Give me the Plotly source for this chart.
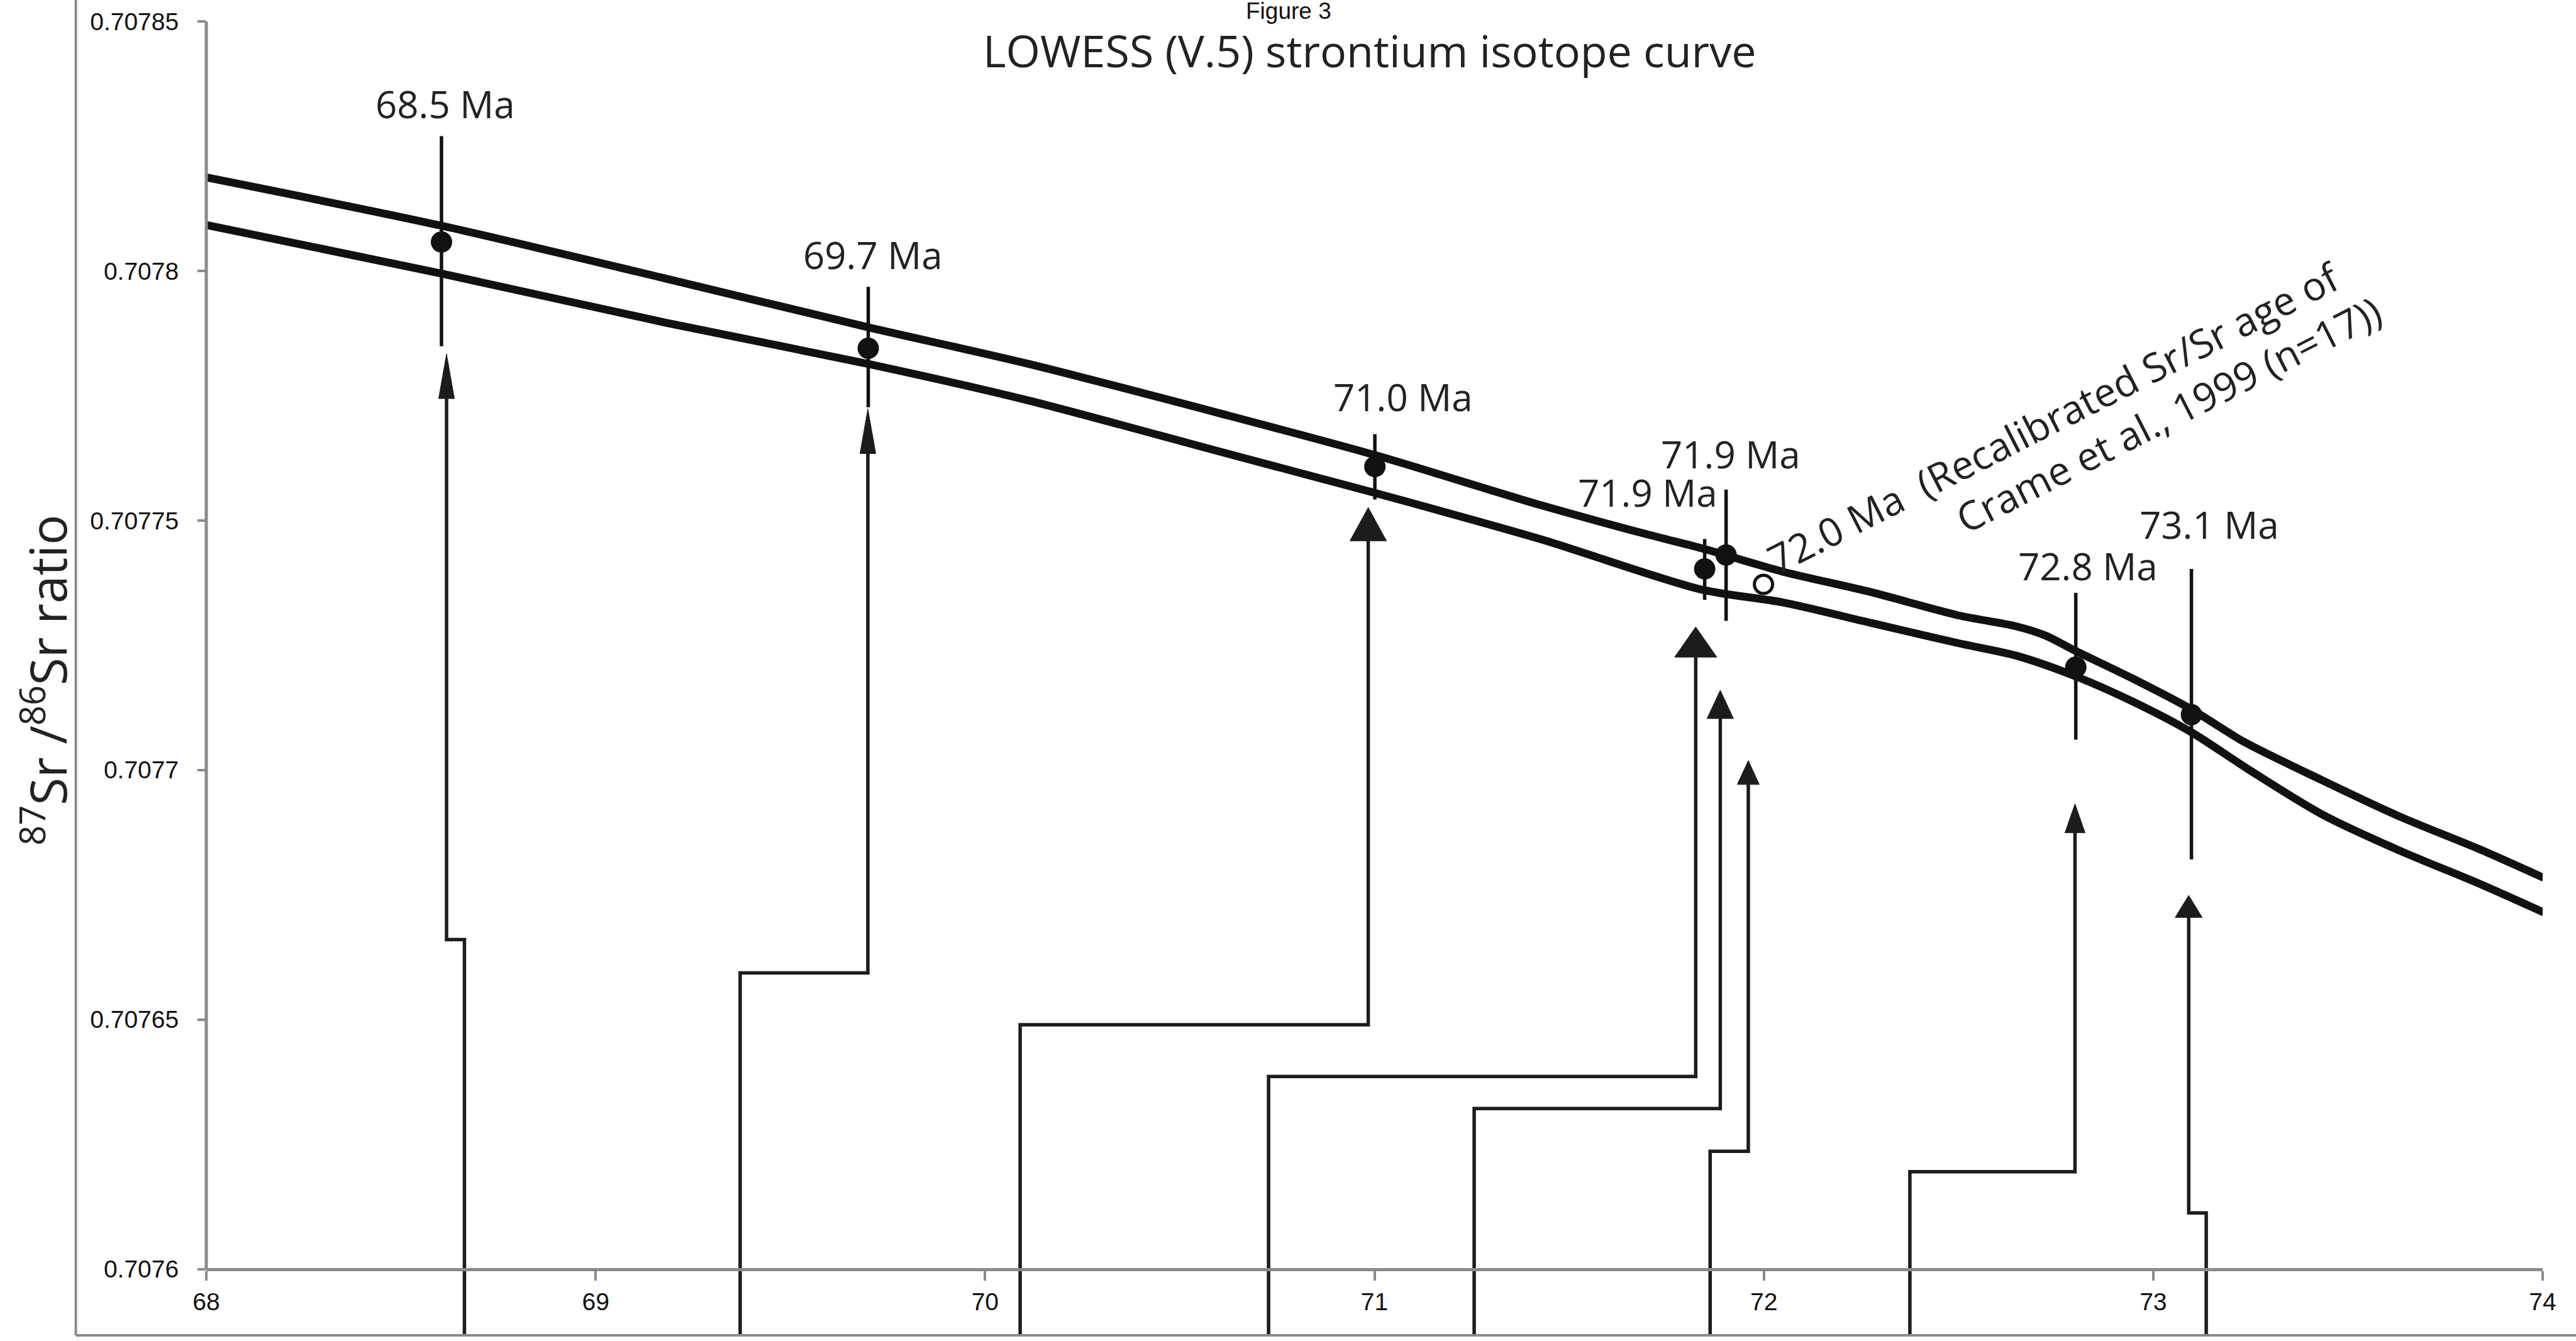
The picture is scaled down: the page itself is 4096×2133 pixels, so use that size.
import plotly.graph_objects as go

# ---------------- data (age in Ma, 87Sr/86Sr) ----------------
upper_age = [68.000, 68.604, 69.180, 69.700, 70.112, 70.604, 71.001, 71.426, 71.698, 71.856,
             72.048, 72.274, 72.499, 72.648, 72.724, 72.799, 72.949, 73.098, 73.231, 73.433,
             73.634, 73.835, 74.003]
upper_sr = [0.70781873, 0.70780906, 0.70779847, 0.70778871, 0.70778137, 0.70777145, 0.70776311,
            0.70775310, 0.70774727, 0.70774410, 0.70773976, 0.70773567, 0.70773100, 0.70772880,
            0.70772692, 0.70772392, 0.70771825, 0.70771216, 0.70770574, 0.70769798, 0.70769064,
            0.70768422, 0.70767839]

lower_age = [68.000, 68.604, 69.180, 69.700, 70.112, 70.604, 71.001, 71.426, 71.839, 72.048,
             72.274, 72.499, 72.648, 72.799, 72.949, 73.098, 73.249, 73.433, 73.634, 73.835, 74.003]
lower_sr = [0.70780922, 0.70779947, 0.70778963, 0.70778137, 0.70777403, 0.70776377, 0.70775552,
            0.70774627, 0.70773617, 0.70773359, 0.70772950, 0.70772542, 0.70772292, 0.70771883,
            0.70771366, 0.70770757, 0.70769990, 0.70769114, 0.70768381, 0.70767730, 0.70767146]

point_age = [68.604, 69.700, 71.001, 71.848, 71.903, 72.801, 73.098]
point_sr = [0.7078058, 0.7077845, 0.7077608, 0.7077403, 0.7077431, 0.7077206, 0.7077111]
err_hi = [0.7078270, 0.7077968, 0.7077673, 0.7077463, 0.7077562, 0.7077355, 0.7077403]
err_lo = [0.7077849, 0.7077727, 0.7077542, 0.7077341, 0.7077299, 0.7077061, 0.7076821]
point_labels = ["68.5 Ma", "69.7 Ma", "71.0 Ma", "71.9 Ma", "71.9 Ma", "72.8 Ma", "73.1 Ma"]
label_age = [68.614, 69.712, 71.074, 71.702, 71.915, 72.833, 73.144]
label_sr = [0.70783349, 0.70780330, 0.70777478, 0.70775560, 0.70776328, 0.70774093, 0.70774918]

open_age = [71.999]
open_sr = [0.7077372]
open_label_lines = ["72.0 Ma\u00a0\u00a0(Recalibrated Sr/Sr age of",
                    "Crame et al., 1999 (n=17))"]
open_label_age = [72.744, 73.039]
open_label_sr = [0.70777068, 0.70777133]

arrow_top_age = [68.617, 69.699, 70.984, 71.825, 71.888, 71.960, 72.799, 73.091]
arrow_tip_sr = [0.70778337, 0.70777236, 0.70775260, 0.70772867, 0.70771599, 0.70770190,
                0.70769323, 0.70767488]
arrow_step_sr = [0.70766604, 0.70765937, 0.70764895, 0.70763861, 0.70763219, 0.70762360,
                 0.70761951, 0.70761126]
arrow_base_age = [68.663, 69.371, 70.090, 70.728, 71.256, 71.862, 72.375, 73.136]

x_ticks = [68, 69, 70, 71, 72, 73, 74]
x_tick_text = ["68", "69", "70", "71", "72", "73", "74"]
y_ticks = [0.7076, 0.70765, 0.7077, 0.70775, 0.7078, 0.70785]
y_tick_text = ["0.7076", "0.70765", "0.7077", "0.70775", "0.7078", "0.70785"]

title_text = "LOWESS (V.5) strontium isotope curve"
fig_label = "Figure 3"
y_title = "<sup>87</sup>Sr /<sup>86</sup>Sr ratio"

# ---------------- layout / style ----------------
W, H = 4096, 2133
ML, MR, MT, MB = 328.4, 53.2, 33.8, 9.3
X_RANGE = [68, 74]
Y_TOP = 0.70785
Y_AXIS = 0.7076
Y_BOTTOM = 0.70758674  # plot area continues below the x axis down to the frame

head_w_px = [25, 25, 58, 67, 42, 35, 32, 43]
head_len_px = [71, 71, 53, 48, 45, 38, 46, 35]

plot_w = W - ML - MR
plot_h = H - MT - MB
px_per_age = plot_w / (X_RANGE[1] - X_RANGE[0])
px_per_sr = plot_h / (Y_TOP - Y_BOTTOM)

BLACK = "#111111"
GREY = "#8a8a8a"
LABEL_FONT = "Open Sans, Lato, sans-serif"
TICK_FONT = "Liberation Sans, Arial, sans-serif"


def paper_x(px):
    return (px - ML) / plot_w


def paper_y(py):
    return (H - MB - py) / plot_h


fig = go.Figure()

# LOWESS envelope
for ages, srs in ((upper_age, upper_sr), (lower_age, lower_sr)):
    fig.add_trace(go.Scatter(x=ages, y=srs, mode="lines",
                             line=dict(color=BLACK, width=12.5, shape="spline", smoothing=0.8),
                             hoverinfo="skip", showlegend=False))

# arrow shafts
sx, sy = [], []
for xt, tip, step, xb, hl in zip(arrow_top_age, arrow_tip_sr, arrow_step_sr, arrow_base_age, head_len_px):
    sx += [xb, xb, xt, xt, None]
    sy += [Y_BOTTOM, step, step, tip - 0.7 * hl / px_per_sr, None]
fig.add_trace(go.Scatter(x=sx, y=sy, mode="lines", line=dict(color="#1c1c1c", width=5.5),
                         hoverinfo="skip", showlegend=False))

# arrow heads
hx, hy = [], []
for xt, tip, hw, hl in zip(arrow_top_age, arrow_tip_sr, head_w_px, head_len_px):
    dx = hw / 2 / px_per_age
    base = tip - hl / px_per_sr
    hx += [xt - dx, xt + dx, xt, xt - dx, None]
    hy += [base, base, tip, base, None]
fig.add_trace(go.Scatter(x=hx, y=hy, mode="lines", fill="toself", fillcolor="#1c1c1c",
                         line=dict(color="#1c1c1c", width=1), hoverinfo="skip", showlegend=False))

# samples with error bars
fig.add_trace(go.Scatter(
    x=point_age, y=point_sr, mode="markers",
    marker=dict(color=BLACK, size=34),
    error_y=dict(type="data", symmetric=False,
                 array=[h - y for h, y in zip(err_hi, point_sr)],
                 arrayminus=[y - l for l, y in zip(err_lo, point_sr)],
                 width=0, thickness=5.5, color=BLACK),
    hoverinfo="skip", showlegend=False))

# recalibrated Crame et al. (open circle)
fig.add_trace(go.Scatter(x=open_age, y=open_sr, mode="markers",
                         marker=dict(color="white", size=29, line=dict(color=BLACK, width=5)),
                         hoverinfo="skip", showlegend=False))

annotations = []
for txt, xa, ya in zip(point_labels, label_age, label_sr):
    annotations.append(dict(x=xa, y=ya, xref="x", yref="y", text=txt, showarrow=False,
                            xanchor="center", yanchor="middle",
                            font=dict(family=LABEL_FONT, size=60, color="#222222")))
for txt, xa, ya in zip(open_label_lines, open_label_age, open_label_sr):
    annotations.append(dict(x=xa, y=ya, xref="x", yref="y", text=txt,
                            showarrow=False, xanchor="center", yanchor="middle",
                            textangle=-27, font=dict(family=LABEL_FONT, size=63, color="#222222")))
annotations.append(dict(x=paper_x(2178), y=paper_y(80), xref="paper", yref="paper", text=title_text,
                        showarrow=False, xanchor="center", yanchor="middle",
                        font=dict(family=LABEL_FONT, size=70, color="#222222")))
annotations.append(dict(x=paper_x(2049), y=paper_y(17), xref="paper", yref="paper", text=fig_label,
                        showarrow=False, xanchor="center", yanchor="middle",
                        font=dict(family=TICK_FONT, size=37, color="#111111")))
annotations.append(dict(x=paper_x(71), y=paper_y(1082), xref="paper", yref="paper", text=y_title,
                        showarrow=False, xanchor="center", yanchor="middle", textangle=-90,
                        font=dict(family=LABEL_FONT, size=80, color="#222222")))

shapes = [
    # y axis line (only over the value range)
    dict(type="line", xref="paper", yref="y", x0=0, x1=0, y0=Y_AXIS, y1=Y_TOP,
         line=dict(color=GREY, width=5)),
    # outer frame, left and bottom
    dict(type="line", xref="paper", yref="paper", x0=paper_x(121), x1=paper_x(121), y0=0, y1=1.05,
         line=dict(color=GREY, width=4)),
    dict(type="line", xref="paper", yref="paper", x0=paper_x(121), x1=1.05, y0=0, y1=0,
         line=dict(color=GREY, width=4)),
]

fig.update_layout(
    width=W, height=H, autosize=False,
    margin=dict(l=ML, r=MR, t=MT, b=MB, pad=0),
    paper_bgcolor="white", plot_bgcolor="white",
    showlegend=False,
    annotations=annotations,
    shapes=shapes,
    xaxis=dict(range=X_RANGE, anchor="free",
               position=(Y_AXIS - Y_BOTTOM) / (Y_TOP - Y_BOTTOM),
               showline=True, linecolor=GREY, linewidth=5,
               ticks="outside", ticklen=15, tickwidth=4, tickcolor=GREY,
               tickvals=x_ticks, ticktext=x_tick_text,
               tickfont=dict(family=TICK_FONT, size=39, color="#111111"),
               showgrid=False, zeroline=False, automargin=False, fixedrange=True),
    yaxis=dict(range=[Y_BOTTOM, Y_TOP], showline=False,
               ticks="outside", ticklen=13, tickwidth=4, tickcolor=GREY,
               tickvals=y_ticks, ticktext=y_tick_text, ticklabelstandoff=22,
               tickfont=dict(family=TICK_FONT, size=39, color="#111111"),
               showgrid=False, zeroline=False, automargin=False, fixedrange=True),
)

fig.write_html("out.html")
